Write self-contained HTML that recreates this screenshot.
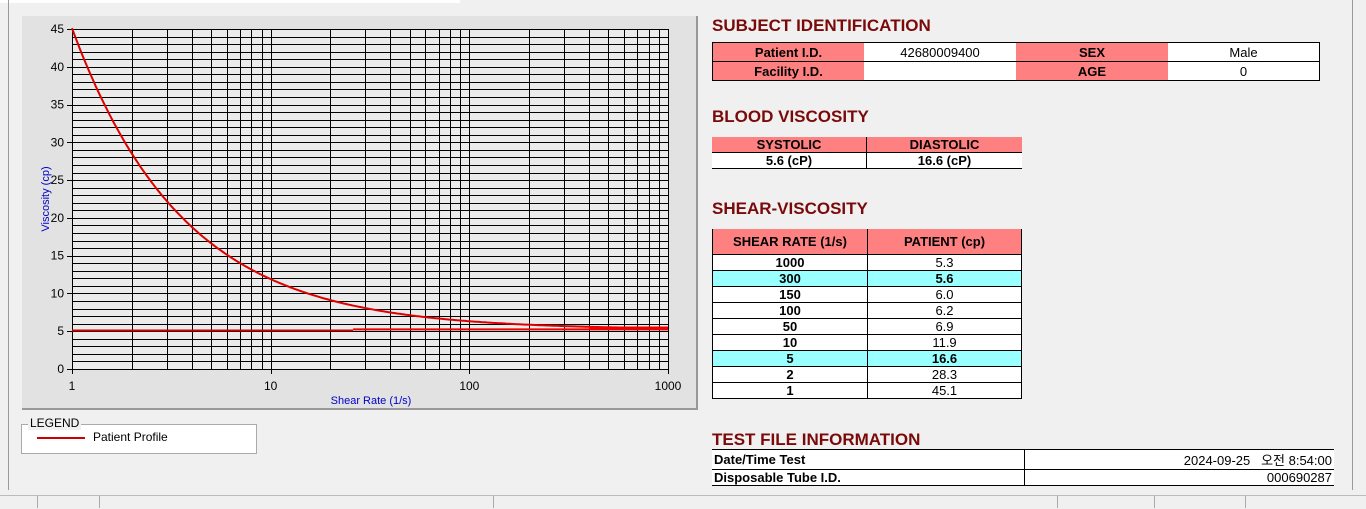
<!DOCTYPE html>
<html><head><meta charset="utf-8"><style>
body{margin:0;width:1366px;height:508px;background:#f0f0f0;position:relative;overflow:hidden;font-family:"Liberation Sans",sans-serif}
.a{position:absolute}
h2{position:absolute;margin:0;font-size:17px;color:#7a0a0a;font-weight:bold;letter-spacing:0}
table{position:absolute;border-collapse:collapse;font-size:13px}
td{padding:0;text-align:center;height:18px;background:#fff;border-bottom:1px solid #000}
td.p{background:#ff8080;font-weight:bold}
.sv td{height:15px;border:1px solid #000;border-top:none}
.sv td.c{background:#99ffff;font-weight:bold}
</style></head><body>
<div class="a" style="left:0;top:0;width:460px;height:3px;background:#fff"></div>
<div class="a" style="left:8px;top:0;width:1px;height:490px;background:#999"></div>
<div class="a" style="left:22px;top:16px;width:676px;height:394px;background:#e2e2e2;border-right:2px solid #999;border-bottom:2px solid #999;box-sizing:border-box"></div>
<svg class="a" style="left:0;top:0" width="700" height="420" id="ch"></svg>
<div class="a" style="left:21px;top:424px;width:234px;height:28px;border:1px solid #aaa;background:#fff"></div>
<div class="a" style="left:28px;top:416px;font-size:12px;background:#f0f0f0;padding:0 2px">LEGEND</div>
<div class="a" style="left:37px;top:437px;width:48px;height:2px;background:#c00"></div>
<div class="a" style="left:93px;top:430px;font-size:12px">Patient Profile</div>

<h2 style="left:712px;top:16px">SUBJECT IDENTIFICATION</h2>
<table style="left:712px;top:42px;width:608px;border:1px solid #000">
<tr><td class="p" style="width:151px">Patient I.D.</td><td style="width:152px">42680009400</td><td class="p" style="width:152px">SEX</td><td>Male</td></tr>
<tr><td class="p">Facility I.D.</td><td></td><td class="p">AGE</td><td>0</td></tr></table>
<h2 style="left:712px;top:107px">BLOOD VISCOSITY</h2>
<table style="left:712px;top:137px;width:310px;font-weight:bold">
<tr><td class="p" style="height:15px;border-right:1px solid #000;width:154px">SYSTOLIC</td><td class="p" style="height:15px">DIASTOLIC</td></tr>
<tr><td style="height:15px;border-right:1px solid #000">5.6 (cP)</td><td style="height:15px">16.6 (cP)</td></tr></table>
<h2 style="left:712px;top:199px">SHEAR-VISCOSITY</h2>
<table class="sv" style="left:712px;top:229px;width:310px">
<tr><td class="p" style="height:25px;width:154px">SHEAR RATE (1/s)</td><td class="p" style="height:25px">PATIENT (cp)</td></tr>
<tr><td><b>1000</b></td><td>5.3</td></tr>
<tr><td class="c">300</td><td class="c">5.6</td></tr>
<tr><td><b>150</b></td><td>6.0</td></tr>
<tr><td><b>100</b></td><td>6.2</td></tr>
<tr><td><b>50</b></td><td>6.9</td></tr>
<tr><td><b>10</b></td><td>11.9</td></tr>
<tr><td class="c">5</td><td class="c">16.6</td></tr>
<tr><td><b>2</b></td><td>28.3</td></tr>
<tr><td><b>1</b></td><td>45.1</td></tr></table>
<h2 style="left:712px;top:430px">TEST FILE INFORMATION</h2>
<table style="left:712px;top:449px;width:622px;border-top:1px solid #000;font-size:13px">
<tr><td style="height:15px;text-align:left;font-weight:bold;width:310px;border-right:1px solid #000;padding-left:2px">Date/Time Test</td><td style="height:15px;text-align:right;padding-right:2px;font-family:'Liberation Sans','Noto Sans CJK KR',sans-serif">2024-09-25 &nbsp; 오전 8:54:00</td></tr>
<tr><td style="height:15px;text-align:left;font-weight:bold;border-right:1px solid #000;padding-left:2px">Disposable Tube I.D.</td><td style="height:15px;text-align:right;padding-right:2px">000690287</td></tr></table>
<div class="a" style="left:1352px;top:0;width:1px;height:490px;background:#999"></div>
<div class="a" style="left:0;top:495px;width:1366px;height:13px;background:#f0f0f0;border-top:1px solid #bbb"></div>
<div class="a" style="left:37px;top:496px;width:1px;height:12px;background:#aaa"></div>
<div class="a" style="left:99px;top:496px;width:1px;height:12px;background:#aaa"></div>
<div class="a" style="left:493px;top:496px;width:1px;height:12px;background:#aaa"></div>
<div class="a" style="left:1057px;top:496px;width:1px;height:12px;background:#aaa"></div>
<div class="a" style="left:1154px;top:496px;width:1px;height:12px;background:#aaa"></div>
<div class="a" style="left:1245px;top:496px;width:1px;height:12px;background:#aaa"></div>
<script>
var s='',X0=72,X1=668,Y0=369,Y1=29,D=(X1-X0)/3;
function px(x){return X0+D*Math.log10(x)}function py(v){return Y0-(Y0-Y1)*v/45}
function r(v){return Math.round(v)+0.5}
s+='<rect x="72" y="29" width="596" height="340" fill="#ebebeb"/>';
for(var v=0;v<=45;v++)s+='<line x1="72" x2="668" y1="'+r(py(v))+'" y2="'+r(py(v))+'" stroke="#000" stroke-width="1" shape-rendering="crispEdges"/>';
for(var d=1;d<=100;d*=10)for(var k=1;k<=10;k++){var x=r(px(d*k));s+='<line x1="'+x+'" x2="'+x+'" y1="29" y2="369" stroke="#000" stroke-width="1" shape-rendering="crispEdges"/>';}
for(var v=0;v<=45;v+=5){s+='<line x1="67" x2="72" y1="'+r(py(v))+'" y2="'+r(py(v))+'" stroke="#000" shape-rendering="crispEdges"/><text x="64" y="'+(py(v)+4)+'" font-size="12" text-anchor="end" font-family="Liberation Sans">'+v+'</text>';}
[1,10,100,1000].forEach(function(t){s+='<line x1="'+r(px(t))+'" x2="'+r(px(t))+'" y1="369" y2="374" stroke="#000" shape-rendering="crispEdges"/><text x="'+px(t)+'" y="390" font-size="12" text-anchor="middle" font-family="Liberation Sans">'+t+'</text>';});
s+='<text x="371" y="404" font-size="11" fill="#00c" text-anchor="middle" font-family="Liberation Sans">Shear Rate (1/s)</text>';
s+='<text transform="translate(49,199) rotate(-90)" font-size="11" fill="#00c" text-anchor="middle" font-family="Liberation Sans">Viscosity (cp)</text>';
var p='';for(var i=0;i<=300;i++){var x=Math.pow(10,i/100),v=5.2+39.9*Math.pow(x,-0.775);p+=(i?'L':'M')+px(x).toFixed(1)+' '+py(v).toFixed(1);}
s+='<path d="'+p+'" fill="none" stroke="#d00" stroke-width="2"/>';
s+='<line x1="72" x2="'+px(26)+'" y1="'+py(5.1)+'" y2="'+py(5.1)+'" stroke="#c00" stroke-width="2"/>';
s+='<line x1="'+px(26)+'" x2="668" y1="'+py(5.25)+'" y2="'+py(5.25)+'" stroke="#e00" stroke-width="2"/>';
s+='<line x1="'+px(400)+'" x2="668" y1="'+py(5.5)+'" y2="'+py(5.5)+'" stroke="#e00" stroke-width="2"/>';
document.getElementById('ch').innerHTML=s;
</script>
</body></html>
